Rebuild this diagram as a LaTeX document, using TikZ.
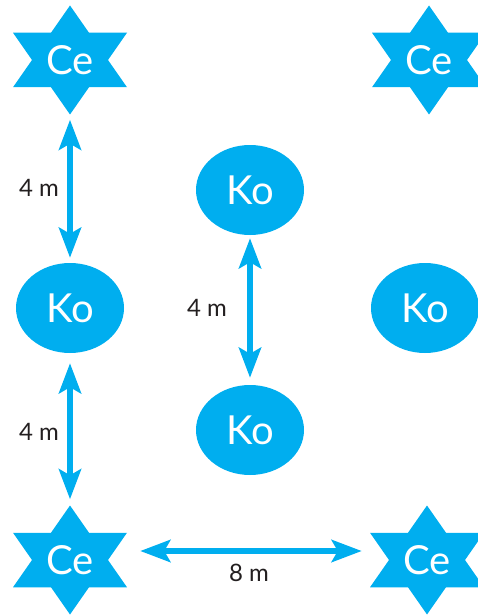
\documentclass[tikz,border=0pt]{standalone}
\usepackage{fontspec}
\setmainfont{Lato}
\usetikzlibrary{shapes.geometric,arrows.meta,calc}
\definecolor{skyc}{RGB}{0,174,239}
\definecolor{inkc}{RGB}{35,31,32}
\tikzset{
  cestar/.style={minimum width=114pt, minimum height=109pt, inner sep=0pt,
    text=white, font=\fontsize{40}{40}\selectfont,
    path picture={
      \fill[skyc] ([shift={(0pt,54.5pt)}]path picture bounding box.center)
        -- ([shift={(-57pt,-27.25pt)}]path picture bounding box.center)
        -- ([shift={(57pt,-27.25pt)}]path picture bounding box.center) -- cycle;
      \fill[skyc] ([shift={(0pt,-54.5pt)}]path picture bounding box.center)
        -- ([shift={(-57pt,27.25pt)}]path picture bounding box.center)
        -- ([shift={(57pt,27.25pt)}]path picture bounding box.center) -- cycle;
    }},
  koell/.style={ellipse, fill=skyc, minimum width=108pt, minimum height=90pt,
    inner sep=0pt, text=white, font=\fontsize{40}{40}\selectfont},
  dimlabel/.style={text=inkc, font=\fontsize{24}{24}\selectfont, inner sep=0pt},
  dimarrow/.style={draw=skyc, line width=6pt,
    {Stealth[length=30pt,width=22pt,inset=6pt]}-{Stealth[length=30pt,width=22pt,inset=6pt]}}
}
\begin{document}
\begin{tikzpicture}[x=1pt,y=-1pt]
\useasboundingbox (0,0) rectangle (478,615);
\node[cestar] (ce1) at (70,60) {Ce};
\node[cestar] (ce2) at (429,60) {Ce};
\node[cestar] (ce3) at (70,560) {Ce};
\node[cestar] (ce4) at (427,560) {Ce};
\node[koell] (ko1) at (70,308) {Ko};
\node[koell] (ko2) at (250,190) {Ko};
\node[koell] (ko3) at (250,430) {Ko};
\node[koell] (ko4) at (425,308) {Ko};
\draw[dimarrow, shorten <=5pt, shorten >=5pt] (ce1.south) -- (ko1.north);
\draw[dimarrow, shorten <=10pt, shorten >=6pt] (ko1.south) -- (ce3.north);
\draw[dimarrow, shorten <=3pt, shorten >=7pt] (ko2.south) -- (ko3.north);
\draw[dimarrow, shorten <=13pt, shorten >=8pt] ([yshift=9pt]ce3.east) -- ([yshift=9pt]ce4.west);
\node[dimlabel] (l1) at (39,188) {4 m};
\node[dimlabel] (l2) at (207,308) {4 m};
\node[dimlabel] (l3) at (39,432) {4 m};
\node[dimlabel] (l4) at (249,573) {8 m};
\end{tikzpicture}
\end{document}
